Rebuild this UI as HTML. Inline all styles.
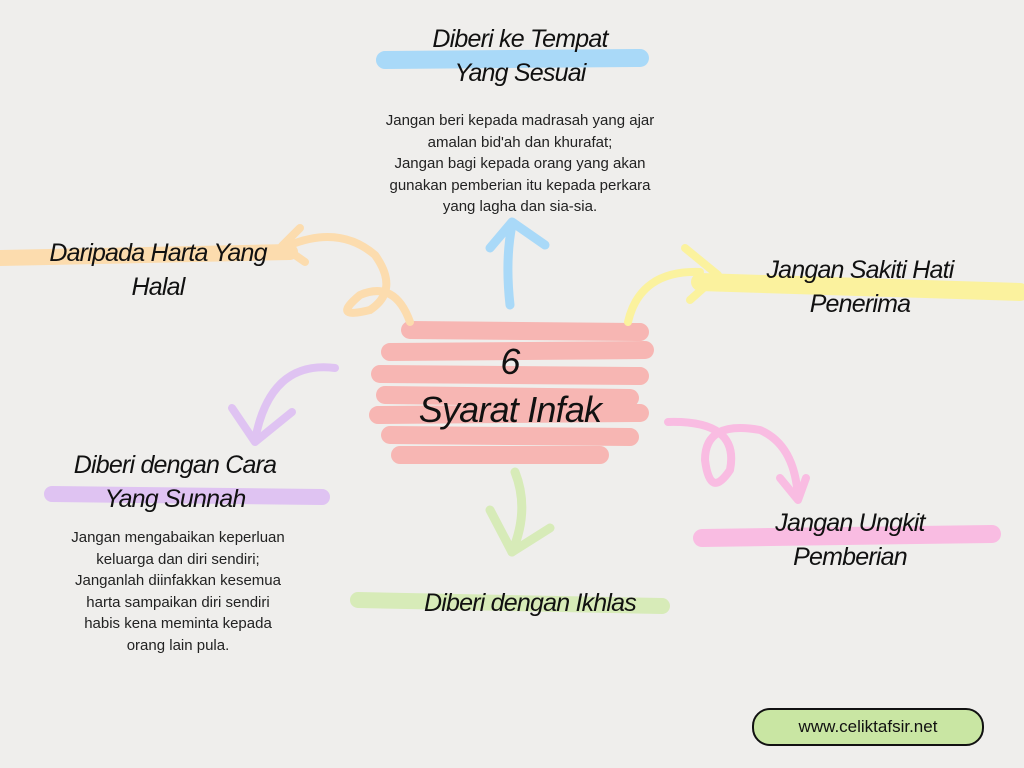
<!DOCTYPE html>
<html><head><meta charset="utf-8"><style>
html,body{margin:0;padding:0}
body{width:1024px;height:768px;background:#efeeec;position:relative;overflow:hidden;font-family:"Liberation Sans",sans-serif}
svg{position:absolute;left:0;top:0}
.h{position:absolute;font-family:"Liberation Sans",sans-serif;font-style:italic;color:#111;text-align:center;font-size:25px;line-height:34px;letter-spacing:-0.8px}
.p{position:absolute;text-align:center;font-size:15px;line-height:21.5px;color:#222}
.btn{position:absolute;left:752px;top:708px;width:228px;height:34px;border:2px solid #111;border-radius:18px;background:#c9e6a3;text-align:center;line-height:34px;font-size:17px;color:#111}
</style></head><body>
<svg width="1024" height="768" fill="none" stroke-linecap="round" stroke-linejoin="round">
<path d="M385 60 L640 58" stroke="#a9d9f8" stroke-width="18"/>
<path d="M0 258 L290 252" stroke="#fcdcae" stroke-width="16"/>
<path d="M700 282 L1020 292" stroke="#fbf29e" stroke-width="18"/>
<path d="M52 494 L322 497" stroke="#dfc3f2" stroke-width="16"/>
<path d="M358 600 L662 606" stroke="#d7ebb8" stroke-width="16"/>
<path d="M702 538 L992 534" stroke="#f9bce2" stroke-width="18"/>
<g stroke="#f8b4b0" stroke-width="18" opacity="0.95">
<path d="M410 330 L640 332"/><path d="M390 352 L645 350"/><path d="M380 374 L640 376"/>
<path d="M385 395 L630 398"/><path d="M378 415 L640 413"/><path d="M390 435 L630 437"/>
<path d="M400 455 L600 455"/>
</g>
<g stroke="#a9d9f8" stroke-width="9"><path d="M510 305 Q505 260 512 225"/><path d="M490 248 L512 222 L545 245"/></g>
<g stroke="#fcdcae" stroke-width="8"><path d="M410 322 Q395 280 360 295 Q330 320 370 310 Q400 290 375 255 Q340 225 290 245"/><path d="M300 228 L282 246 L305 262"/></g>
<g stroke="#fbf29e" stroke-width="8"><path d="M628 322 Q640 270 700 272"/><path d="M685 248 L718 275 L690 300"/></g>
<g stroke="#dfc3f2" stroke-width="8"><path d="M335 368 Q270 360 255 440"/><path d="M232 408 L255 442 L292 412"/></g>
<g stroke="#d7ebb8" stroke-width="9"><path d="M515 472 Q530 510 512 552"/><path d="M490 510 L512 552 L550 528"/></g>
<g stroke="#f9bce2" stroke-width="8"><path d="M668 422 Q740 420 730 470 Q710 500 705 460 Q705 420 760 430 Q795 445 798 498"/><path d="M780 478 L798 500 L806 478"/></g>
</svg>
<div class="h" style="left:370px;top:22px;width:300px">Diberi ke Tempat<br>Yang Sesuai</div>
<div class="p" style="left:350px;top:110px;width:340px">Jangan beri kepada madrasah yang ajar<br>amalan bid'ah dan khurafat;<br>Jangan bagi kepada orang yang akan<br>gunakan pemberian itu kepada perkara<br>yang lagha dan sia-sia.</div>
<div class="h" style="left:8px;top:236px;width:300px">Daripada Harta Yang<br>Halal</div>
<div class="h" style="left:710px;top:253px;width:300px">Jangan Sakiti Hati<br>Penerima</div>
<div class="h" style="left:360px;top:338px;width:300px;font-size:36px;line-height:48px">6<br>Syarat Infak</div>
<div class="h" style="left:25px;top:448px;width:300px">Diberi dengan Cara<br>Yang Sunnah</div>
<div class="p" style="left:30px;top:527px;width:296px">Jangan mengabaikan keperluan<br>keluarga dan diri sendiri;<br>Janganlah diinfakkan kesemua<br>harta sampaikan diri sendiri<br>habis kena meminta kepada<br>orang lain pula.</div>
<div class="h" style="left:380px;top:586px;width:300px">Diberi dengan Ikhlas</div>
<div class="h" style="left:700px;top:506px;width:300px">Jangan Ungkit<br>Pemberian</div>
<div class="btn">www.celiktafsir.net</div>
</body></html>
